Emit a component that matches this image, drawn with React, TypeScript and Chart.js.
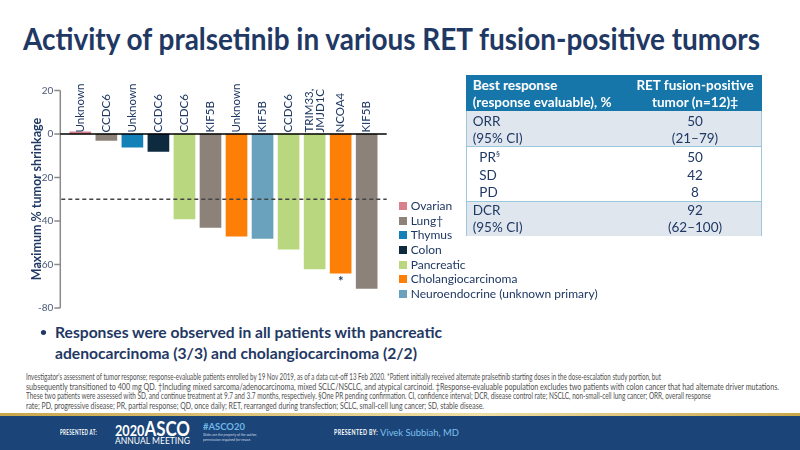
import React, { useEffect, useLayoutEffect, useRef } from 'react';
import { Chart, registerables } from 'chart.js';

Chart.register(...registerables);

// ---------- DATA ----------
const fusionLabels: (string | string[])[] = [
  'Unknown', 'CCDC6', 'Unknown', 'CCDC6', 'CCDC6', 'KIF5B', 'Unknown', 'KIF5B', 'CCDC6',
  ['TRIM33,', 'JMJD1C'], 'NCOA4', 'KIF5B',
];
const shrinkage = [1, -3, -6, -8, -39, -43, -47, -48, -53, -62, -64, -71];
const tumorTypes = [
  'Ovarian', 'Lung', 'Thymus', 'Colon', 'Pancreatic', 'Lung', 'Cholangiocarcinoma',
  'Neuroendocrine', 'Pancreatic', 'Pancreatic', 'Cholangiocarcinoma', 'Lung',
];
const barMarks = ['', '', '', '', '', '', '', '', '', '', '*', ''];
const legendTypes = ['Ovarian', 'Lung', 'Thymus', 'Colon', 'Pancreatic', 'Cholangiocarcinoma', 'Neuroendocrine'];
const legendLabels = ['Ovarian', 'Lung†', 'Thymus', 'Colon', 'Pancreatic', 'Cholangiocarcinoma', 'Neuroendocrine (unknown primary)'];
const typeColors = ['#d9808e', '#8c8279', '#1480b8', '#0d2a3f', '#b8d77e', '#fd7f07', '#6aa2bd'];
const yMin = -80;
const yMax = 20;
const yStep = 20;
const responseThreshold = -30;

const tableHeaderLeft = ['Best response', '(response evaluable), %'];
const tableHeaderRight = ['RET fusion-positive', 'tumor (n=12)‡'];
const tableRowLabels = ['ORR', '(95% CI)', 'PR§', 'SD', 'PD', 'DCR', '(95% CI)'];
const tableRowValues = ['50', '(21–79)', '50', '42', '8', '92', '(62–100)'];

const footnoteLines = [
  "Investigator's assessment of tumor response; response-evaluable patients enrolled by 19 Nov 2019, as of a data cut-off 13 Feb 2020. *Patient initially received alternate pralsetinib starting doses in the dose-escalation study portion, but",
  'subsequently  transitioned to 400 mg QD. †Including mixed sarcoma/adenocarcinoma, mixed SCLC/NSCLC, and atypical carcinoid. ‡Response-evaluable population excludes two patients with colon cancer that had alternate driver mutations.',
  'These two patients were assessed with SD, and continue treatment at 9.7 and 3.7 months, respectively. §One PR pending confirmation. CI, confidence interval; DCR, disease control rate; NSCLC, non-small-cell lung cancer; ORR, overall response',
  'rate; PD, progressive disease; PR, partial response; QD, once daily; RET, rearranged during transfection; SCLC, small-cell lung cancer; SD, stable disease.',
];

const FONT = 'Lato, "Open Sans", "DejaVu Sans", sans-serif';
const NAVY = '#1f3864';

// ---------- helpers ----------
function Fit(props: { x: number; y: number; w: number; h?: number; style?: React.CSSProperties; children: React.ReactNode }) {
  const { x, y, w, h = 16, style, children } = props;
  const ref = useRef<HTMLDivElement>(null);
  useLayoutEffect(() => {
    const el = ref.current;
    if (!el) return;
    const fit = () => {
      el.style.transform = 'none';
      const nat = el.getBoundingClientRect().width;
      if (nat > 0) el.style.transform = `scaleX(${w / nat})`;
    };
    fit();
    (document as any).fonts?.ready?.then(fit);
  }, [w]);
  return (
    <div
      ref={ref}
      style={{
        position: 'absolute', left: x, top: y - h / 2, height: h, lineHeight: h + 'px',
        whiteSpace: 'nowrap', transformOrigin: 'left center', fontFamily: FONT, ...style,
      }}
    >
      {children}
    </div>
  );
}

function Txt(props: { x: number; y: number; h?: number; align?: 'left' | 'center'; w?: number; style?: React.CSSProperties; children: React.ReactNode }) {
  const { x, y, h = 16, align = 'left', w = 0, style, children } = props;
  return (
    <div
      style={{
        position: 'absolute', left: align === 'center' ? x - w / 2 : x, top: y - h / 2,
        width: align === 'center' ? w : undefined, textAlign: align, height: h, lineHeight: h + 'px',
        whiteSpace: 'nowrap', fontFamily: FONT, ...style,
      }}
    >
      {children}
    </div>
  );
}

const decorPlugin = {
  id: 'decor',
  afterDatasetsDraw(chart: any) {
    const { ctx, chartArea, scales } = chart;
    const y = scales.y;
    const axisX = chartArea.left - 7;
    const right = chartArea.right + 7;
    ctx.save();
    // y axis line + ticks
    ctx.strokeStyle = '#8a8a8a';
    ctx.lineWidth = 1.5;
    ctx.beginPath();
    ctx.moveTo(axisX, y.getPixelForValue(y.max));
    ctx.lineTo(axisX, y.getPixelForValue(y.min));
    ctx.stroke();
    y.ticks.forEach((t: any) => {
      const py = y.getPixelForValue(t.value);
      ctx.beginPath();
      ctx.moveTo(axisX - 6, py);
      ctx.lineTo(axisX, py);
      ctx.stroke();
    });
    // threshold dashed line
    const ty = y.getPixelForValue(responseThreshold);
    ctx.setLineDash([4, 3]);
    ctx.strokeStyle = '#444444';
    ctx.lineWidth = 1.3;
    ctx.beginPath();
    ctx.moveTo(axisX + 1, ty);
    ctx.lineTo(right, ty);
    ctx.stroke();
    ctx.setLineDash([]);
    // zero line
    const y0 = y.getPixelForValue(0);
    ctx.strokeStyle = '#000000';
    ctx.lineWidth = 1.6;
    ctx.beginPath();
    ctx.moveTo(axisX, y0);
    ctx.lineTo(right, y0);
    ctx.stroke();
    // bar labels
    const meta = chart.getDatasetMeta(0);
    meta.data.forEach((bar: any, i: number) => {
      const lines = ([] as string[]).concat(fusionLabels[i] as any);
      ctx.save();
      ctx.translate(bar.x, y0 - 1.5);
      ctx.rotate(-Math.PI / 2);
      ctx.font = `11.5px ${FONT}`;
      ctx.fillStyle = NAVY;
      ctx.textAlign = 'left';
      ctx.textBaseline = 'middle';
      lines.forEach((ln, j) => ctx.fillText(ln, 0, (j - (lines.length - 1) / 2) * 10.5));
      ctx.restore();
      if (barMarks[i]) {
        ctx.font = `bold 13px ${FONT}`;
        ctx.fillStyle = NAVY;
        ctx.textAlign = 'center';
        ctx.textBaseline = 'top';
        ctx.fillText(barMarks[i], bar.x, y.getPixelForValue(shrinkage[i]) + 2);
      }
    });
    ctx.restore();
  },
};

function WaterfallChart() {
  const ref = useRef<HTMLCanvasElement>(null);
  useEffect(() => {
    if (!ref.current) return;
    const colors = tumorTypes.map((t) => typeColors[legendTypes.indexOf(t)]);
    const chart = new Chart(ref.current, {
      type: 'bar',
      data: {
        labels: fusionLabels.map((l) => (Array.isArray(l) ? l.join(' ') : l)),
        datasets: [{ data: shrinkage, backgroundColor: colors, borderWidth: 0, barThickness: 21 }],
      },
      options: {
        animation: false,
        responsive: false,
        maintainAspectRatio: false,
        layout: { padding: { left: 0, right: 20.3, top: 15.5, bottom: 12 } },
        plugins: { legend: { display: false }, tooltip: { enabled: false } },
        scales: {
          x: { display: false, offset: true, grid: { display: false } },
          y: {
            min: yMin,
            max: yMax,
            border: { display: false },
            grid: { display: false, drawTicks: false },
            ticks: { stepSize: yStep, padding: 14, color: '#4a5878', font: { family: FONT, size: 10 } },
            afterFit: (s: any) => { s.width = 47.3; s.paddingTop = 0; s.paddingBottom = 0; },
          },
        },
      },
      plugins: [decorPlugin],
    } as any);
    return () => chart.destroy();
  }, []);
  return <canvas ref={ref} width={380} height={245} style={{ position: 'absolute', left: 20, top: 75, width: 380, height: 245 }} />;
}

export default function App() {
  const rowYs = [121.7, 138.3, 157.3, 175, 192.3, 210.7, 227.3];
  const rowIndent = [0, 0, 6.6, 6.6, 6.6, 0, 0];
  const legendYs = [206, 220.7, 235.3, 250, 264.5, 279.3, 293.6];
  const footYs = [377, 386.5, 396, 405.5];
  const footW = [635, 753, 685, 458];
  return (
    <div style={{ position: 'absolute', left: 0, top: 0, width: 800, height: 450, background: '#ffffff', overflow: 'hidden', fontFamily: FONT }}>
      {/* title */}
      <Fit x={23} y={38} w={737} h={36} style={{ fontSize: 30, fontWeight: 700, color: NAVY }}>
        Activity of pralsetinib in various RET fusion-positive tumors
      </Fit>

      <WaterfallChart />

      {/* y axis title */}
      <div style={{ position: 'absolute', left: 36, top: 199, transform: 'translate(-50%, -50%) rotate(-90deg)', whiteSpace: 'nowrap', fontSize: 12.5, fontWeight: 700, color: NAVY, fontFamily: FONT }}>
        Maximum % tumor shrinkage
      </div>

      {/* legend */}
      {legendLabels.map((l, i) => (
        <React.Fragment key={l}>
          <div style={{ position: 'absolute', left: 399, top: legendYs[i] - 4, width: 8, height: 8, background: typeColors[i] }} />
          <Txt x={410.7} y={legendYs[i]} h={14} style={{ fontSize: 12, color: NAVY }}>{l}</Txt>
        </React.Fragment>
      ))}

      {/* table */}
      <div style={{ position: 'absolute', left: 466, top: 74.7, width: 296, height: 161, border: '1px solid #9cc8de', boxSizing: 'border-box', background: '#ffffff' }} />
      <div style={{ position: 'absolute', left: 466, top: 74.7, width: 296, height: 36, background: '#1776a9' }} />
      <div style={{ position: 'absolute', left: 467, top: 110.7, width: 294, height: 35.3, background: '#dfe6ee' }} />
      <div style={{ position: 'absolute', left: 467, top: 146, width: 294, height: 1, background: '#9cc8de' }} />
      <div style={{ position: 'absolute', left: 467, top: 200.7, width: 294, height: 34, background: '#dfe6ee', borderTop: '1px solid #9cc8de' }} />
      {tableHeaderLeft.map((t, i) => (
        <Txt key={t} x={472.7} y={[85, 102.3][i]} h={17} style={{ fontSize: 13.5, fontWeight: 700, color: '#ffffff' }}>{t}</Txt>
      ))}
      {tableHeaderRight.map((t, i) => (
        <Txt key={t} x={695} y={[85, 102.3][i]} h={17} align="center" w={140} style={{ fontSize: 13.5, fontWeight: 700, color: '#ffffff' }}>{t}</Txt>
      ))}
      {tableRowLabels.map((t, i) => (
        <Txt key={'l' + i} x={472.7 + rowIndent[i]} y={rowYs[i]} h={17} style={{ fontSize: 13.5, color: NAVY }}>
          {t === 'PR§' ? <>PR<span style={{ fontSize: 8, verticalAlign: 'top', lineHeight: '10px' }}>§</span></> : t}
        </Txt>
      ))}
      {tableRowValues.map((t, i) => (
        <Txt key={'v' + i} x={695} y={rowYs[i]} h={17} align="center" w={100} style={{ fontSize: 13.5, color: NAVY }}>{t}</Txt>
      ))}

      {/* bullet */}
      <Txt x={40} y={331.7} h={20} style={{ fontSize: 12, fontWeight: 700, color: NAVY }}>•</Txt>
      <Fit x={55} y={331.7} w={387} h={20} style={{ fontSize: 15.5, fontWeight: 700, color: NAVY }}>
        Responses were observed in all patients with pancreatic
      </Fit>
      <Fit x={55} y={352.7} w={362} h={20} style={{ fontSize: 15.5, fontWeight: 700, color: NAVY }}>
        adenocarcinoma (3/3) and cholangiocarcinoma (2/2)
      </Fit>

      {/* footnotes */}
      {footnoteLines.map((l, i) => (
        <Fit key={i} x={26} y={footYs[i]} w={footW[i]} h={10} style={{ fontSize: 8.5, color: '#505050' }}>{l}</Fit>
      ))}

      {/* footer */}
      <div style={{ position: 'absolute', left: 0, top: 413, width: 800, height: 3, background: 'linear-gradient(90deg, #c8a64a, #efe0a8 60%, #c8a64a)' }} />
      <div style={{ position: 'absolute', left: 0, top: 416, width: 800, height: 34, background: '#1b4578' }} />
      <Fit x={60} y={432} w={37} h={10} style={{ fontSize: 7, fontWeight: 700, color: '#ffffff', letterSpacing: 0.5 }}>PRESENTED AT:</Fit>
      <Fit x={115} y={428} w={75} h={20} style={{ fontSize: 20, fontWeight: 700, color: '#ffffff' }}>
        <span style={{ fontSize: 15 }}>2020</span>ASCO
      </Fit>
      <Fit x={115} y={441} w={75} h={10} style={{ fontSize: 8.5, color: '#ffffff' }}>ANNUAL MEETING</Fit>
      <Fit x={203} y={427} w={42} h={10} style={{ fontSize: 8.5, fontWeight: 700, color: '#6fb6e8' }}>#ASCO20</Fit>
      <Fit x={203} y={434} w={54} h={5} style={{ fontSize: 4, fontStyle: 'italic', color: '#cfd8e6' }}>Slides are the property of the author,</Fit>
      <Fit x={203} y={439} w={48} h={5} style={{ fontSize: 4, fontStyle: 'italic', color: '#cfd8e6' }}>permission required for reuse.</Fit>
      <Fit x={334} y={432} w={44} h={10} style={{ fontSize: 7, fontWeight: 700, color: '#ffffff', letterSpacing: 0.5 }}>PRESENTED BY:</Fit>
      <Fit x={380} y={432} w={79} h={12} style={{ fontSize: 10, color: '#7cc0ef' }}>Vivek Subbiah, MD</Fit>
    </div>
  );
}
